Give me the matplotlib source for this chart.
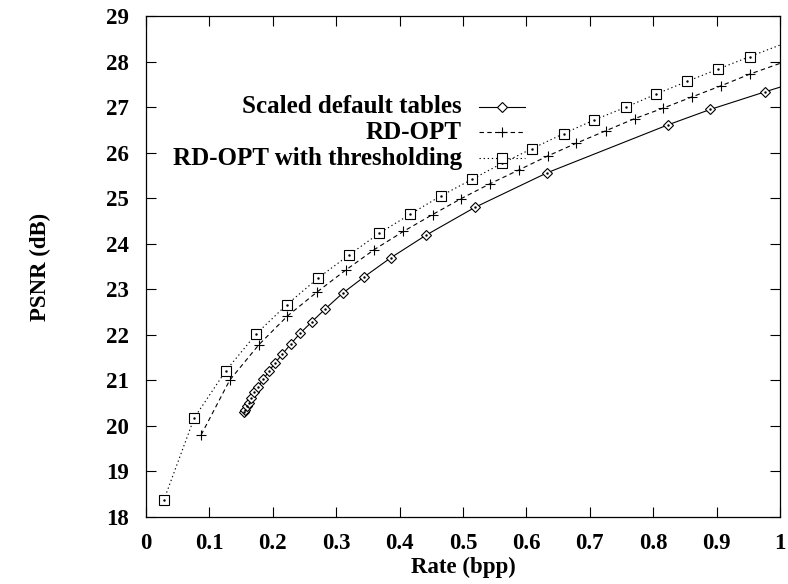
import matplotlib
matplotlib.use("Agg")
import matplotlib.pyplot as plt
from matplotlib.lines import Line2D

plt.rcParams['font.family'] = ['Liberation Serif', 'DejaVu Serif']
plt.rcParams['font.weight'] = 'bold'
plt.rcParams['axes.labelweight'] = 'bold'
plt.rcParams['font.size'] = 16.5

# Scaled default tables (diamonds, solid)
rate_default = [0.155, 0.156, 0.159, 0.162, 0.166, 0.171, 0.177, 0.185, 0.194,
                0.203, 0.215, 0.228, 0.243, 0.262, 0.283, 0.310, 0.344, 0.386,
                0.442, 0.519, 0.633, 0.823, 0.890, 0.977, 1.060]
psnr_default = [20.30, 20.35, 20.43, 20.51, 20.62, 20.73, 20.86, 21.02, 21.20,
                21.37, 21.57, 21.79, 22.03, 22.29, 22.57, 22.91, 23.27, 23.69,
                24.19, 24.80, 25.56, 26.61, 26.95, 27.34, 27.70]

# RD-OPT (plus, dashed)
rate_rdopt = [0.087, 0.132, 0.178, 0.223, 0.269, 0.315, 0.360, 0.406, 0.452,
              0.497, 0.543, 0.588, 0.634, 0.679, 0.725, 0.771, 0.816, 0.862,
              0.907, 0.953, 1.040]
psnr_rdopt = [19.80, 21.00, 21.78, 22.41, 22.93, 23.42, 23.87, 24.27, 24.64,
              24.99, 25.32, 25.62, 25.93, 26.21, 26.48, 26.75, 26.98, 27.23,
              27.47, 27.73, 28.16]

# RD-OPT with thresholding (squares, dotted)
rate_thresh = [0.028, 0.076, 0.126, 0.174, 0.222, 0.272, 0.320, 0.368, 0.417,
               0.465, 0.515, 0.562, 0.609, 0.659, 0.707, 0.757, 0.805, 0.854,
               0.903, 0.952, 1.050]
psnr_thresh = [18.36, 20.17, 21.21, 22.02, 22.66, 23.25, 23.75, 24.23, 24.65,
               25.05, 25.42, 25.77, 26.09, 26.42, 26.72, 27.00, 27.29, 27.57,
               27.84, 28.11, 28.63]

labels = ["Scaled default tables", "RD-OPT", "RD-OPT with thresholding"]

fig = plt.figure(figsize=(7.88, 5.84), dpi=100)
ax = fig.add_axes([0.1853, 0.1152, 0.8045, 0.8571])

styles = [
    dict(ls='-', marker='D', ms=5, mfc='white'),
    dict(ls=(0, (4, 3)), marker='+', ms=7, mfc='black'),
    dict(ls=(0, (1.2, 2.5)), marker='s', ms=6.5, mfc='white'),
]
series = [(rate_default, psnr_default), (rate_rdopt, psnr_rdopt), (rate_thresh, psnr_thresh)]

for (x, y), st in zip(series, styles):
    ax.plot(x, y, color='black', lw=0.8, mec='black', mew=0.8, **st)
    if st['marker'] != '+':
        ax.plot(x, y, ls='none', marker='.', ms=1.5, color='black')

# key, gnuplot style: right-aligned text, sample line on the right
key_y = [0.8186, 0.768, 0.716]
for lab, st, ky in zip(labels, styles, key_y):
    ax.text(0.498, ky, lab, transform=ax.transAxes, ha='right', va='center',
            fontsize=18)
    ax.add_line(Line2D([0.525, 0.598], [ky, ky], transform=ax.transAxes,
                       color='black', lw=0.8, ls=st['ls']))
    ax.add_line(Line2D([0.5615], [ky], transform=ax.transAxes, color='black',
                       marker=st['marker'], ms=st['ms'], mfc=st['mfc'],
                       mec='black', mew=0.8))

ax.set_xlim(0, 1)
ax.set_ylim(18, 29)
ax.set_xticks([0, 0.1, 0.2, 0.3, 0.4, 0.5, 0.6, 0.7, 0.8, 0.9, 1])
ax.set_xticklabels(['0', '0.1', '0.2', '0.3', '0.4', '0.5', '0.6', '0.7', '0.8', '0.9', '1'])
ax.set_yticks(range(18, 30))
ax.tick_params(direction='in', length=7, width=0.8, top=True, right=True)
ax.tick_params(axis='x', pad=12)
ax.tick_params(axis='y', pad=12)
for s in ax.spines.values():
    s.set_linewidth(0.9)

ax.set_xlabel('Rate (bpp)')
ax.set_ylabel('PSNR (dB)')
ax.xaxis.set_label_coords(0.5, -0.08)
ax.yaxis.set_label_coords(-0.167, 0.5)
ax.yaxis.label.set_va('center')

fig.savefig('out.png', dpi=100)
